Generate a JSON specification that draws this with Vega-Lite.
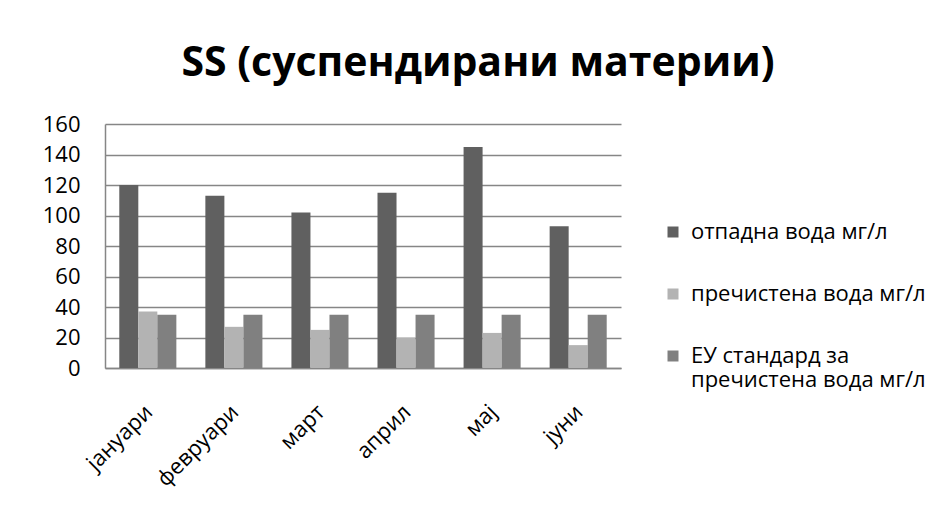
{
  "$schema": "https://vega.github.io/schema/vega-lite/v6.json",
  "autosize": {"type": "none"},
  "width": 516,
  "height": 244,
  "padding": {"left": 105, "top": 124, "right": 324, "bottom": 148},
  "background": "white",
  "title": {
    "text": "SS (суспендирани материи)",
    "font": "Open Sans",
    "fontSize": 41,
    "fontWeight": "bold",
    "color": "black",
    "anchor": "middle",
    "dx": 115,
    "offset": 28
  },
  "data": {
    "values": [
      {"month": "јануари", "series": "отпадна вода мг/л", "value": 120},
      {"month": "јануари", "series": "пречистена вода мг/л", "value": 37},
      {"month": "јануари", "series": "ЕУ стандард за пречистена вода мг/л", "value": 35},
      {"month": "февруари", "series": "отпадна вода мг/л", "value": 113},
      {"month": "февруари", "series": "пречистена вода мг/л", "value": 27},
      {"month": "февруари", "series": "ЕУ стандард за пречистена вода мг/л", "value": 35},
      {"month": "март", "series": "отпадна вода мг/л", "value": 102},
      {"month": "март", "series": "пречистена вода мг/л", "value": 25},
      {"month": "март", "series": "ЕУ стандард за пречистена вода мг/л", "value": 35},
      {"month": "април", "series": "отпадна вода мг/л", "value": 115},
      {"month": "април", "series": "пречистена вода мг/л", "value": 20},
      {"month": "април", "series": "ЕУ стандард за пречистена вода мг/л", "value": 35},
      {"month": "мај", "series": "отпадна вода мг/л", "value": 145},
      {"month": "мај", "series": "пречистена вода мг/л", "value": 23},
      {"month": "мај", "series": "ЕУ стандард за пречистена вода мг/л", "value": 35},
      {"month": "јуни", "series": "отпадна вода мг/л", "value": 93},
      {"month": "јуни", "series": "пречистена вода мг/л", "value": 15},
      {"month": "јуни", "series": "ЕУ стандард за пречистена вода мг/л", "value": 35}
    ]
  },
  "mark": {"type": "bar"},
  "encoding": {
    "x": {
      "field": "month",
      "type": "nominal",
      "sort": null,
      "scale": {"paddingInner": 0.337, "paddingOuter": 0.166},
      "axis": {
        "title": null,
        "labelAngle": -45,
        "labelFont": "Open Sans",
        "labelFontSize": 22,
        "labelColor": "black",
        "labelPadding": 33,
        "labelOffset": -6,
        "ticks": false,
        "domainColor": "#868686",
        "domainWidth": 1.5,
        "grid": false
      }
    },
    "xOffset": {
      "field": "series",
      "type": "nominal",
      "sort": null,
      "scale": {"paddingInner": 0, "paddingOuter": 0}
    },
    "y": {
      "field": "value",
      "type": "quantitative",
      "scale": {"domain": [0, 160], "nice": false},
      "axis": {
        "title": null,
        "values": [0, 20, 40, 60, 80, 100, 120, 140, 160],
        "labelFont": "Open Sans",
        "labelFontSize": 22,
        "labelColor": "black",
        "labelPadding": 25,
        "ticks": false,
        "grid": true,
        "gridColor": "#868686",
        "gridWidth": 1.5,
        "domainColor": "#868686",
        "domainWidth": 1.5
      }
    },
    "color": {
      "field": "series",
      "type": "nominal",
      "sort": null,
      "scale": {
        "domain": ["отпадна вода мг/л", "пречистена вода мг/л", "ЕУ стандард за пречистена вода мг/л"],
        "range": ["#606060", "#b3b3b3", "#808080"]
      },
      "legend": {
        "title": null,
        "orient": "none",
        "legendX": 557,
        "legendY": 97,
        "padding": 0,
        "symbolType": "square",
        "symbolSize": 121,
        "symbolStrokeWidth": 0,
        "labelFont": "Open Sans",
        "labelFontSize": 22,
        "labelColor": "black",
        "labelOffset": 7,
        "labelLimit": 400,
        "labelLineHeight": 28,
        "rowPadding": 40,
        "labelExpr": "datum.label == 'ЕУ стандард за пречистена вода мг/л' ? ['ЕУ стандард за', 'пречистена вода мг/л'] : datum.label"
      }
    }
  },
  "config": {
    "view": {"stroke": null}
  }
}
